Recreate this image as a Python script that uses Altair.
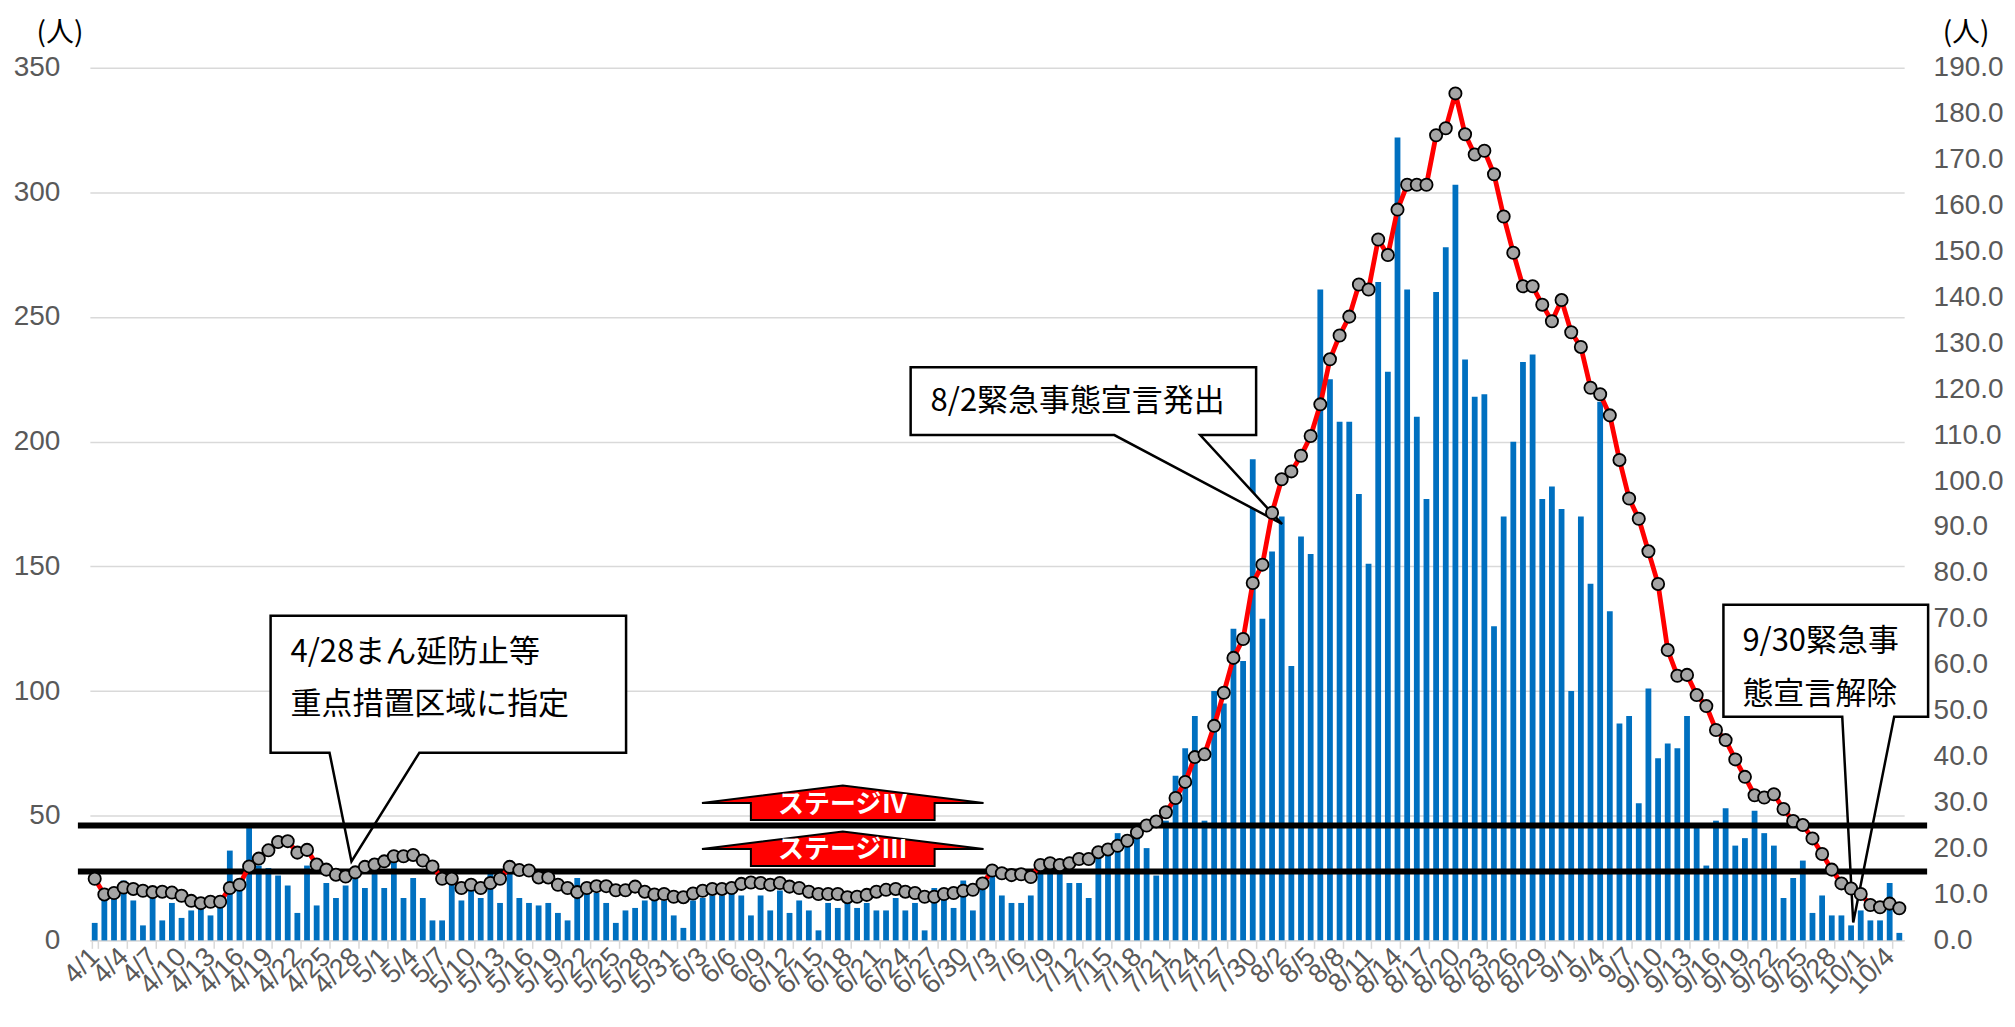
import altair as alt
import pandas as pd

# ---------------- categories ----------------
N_DAYS = 188
day_labels = [f"{d.month}/{d.day}" for d in pd.date_range("2021-04-01", periods=N_DAYS, freq="D")]
tick_labels = day_labels[::3]

# ---------------- daily new cases (left axis, 人) ----------------
cases_apr = [7, 18, 17, 24, 16, 6, 17, 8, 15, 9, 12, 13, 10, 13, 36, 21, 47, 30, 29, 26,
             22, 11, 30, 14, 23, 17, 22, 28, 21, 33]
cases_may = [21, 32, 17, 25, 17, 8, 8, 23, 16, 20, 17, 27, 15, 32, 17, 15, 14, 15, 11, 8,
             25, 20, 19, 15, 7, 12, 13, 16, 16, 16, 10]
cases_jun = [5, 16, 17, 18, 18, 19, 18, 10, 18, 12, 20, 11, 16, 12, 4, 15, 13, 15, 13, 15,
             12, 12, 17, 12, 15, 4, 21, 17, 13, 24]
cases_jul = [12, 24, 28, 18, 15, 15, 18, 32, 33, 30, 23, 23, 17, 33, 35, 43, 39, 44, 37, 26,
             48, 66, 77, 90, 48, 100, 95, 125, 112, 193, 129]
cases_aug = [156, 170, 110, 162, 155, 261, 225, 208, 208, 179, 151, 264, 228, 322, 261, 210,
             177, 260, 278, 303, 233, 218, 219, 126, 170, 200, 232, 235, 177, 182, 173]
cases_sep = [100, 170, 143, 216, 132, 87, 90, 55, 101, 73, 79, 77, 90, 47, 30, 48, 53, 38,
             41, 52, 43, 38, 17, 25, 32, 11, 18, 10, 10, 6]
cases_oct = [12, 8, 8, 23, 3]

# ---------------- weekly cases per 100k (right axis, 人) ----------------
weekly_apr = [13.4, 10.0, 10.3, 11.5, 11.2, 10.8, 10.5, 10.6, 10.4, 9.7, 8.6, 8.1, 8.4, 8.4,
              11.4, 12.1, 16.1, 17.8, 19.6, 21.4, 21.6, 19.1, 19.7, 16.5, 15.4, 14.3, 13.9,
              14.8, 16.0, 16.5]
weekly_may = [17.2, 18.3, 18.3, 18.6, 17.4, 16.1, 13.4, 13.4, 11.4, 12.1, 11.4, 12.5, 13.4,
              16.0, 15.3, 15.2, 13.7, 13.7, 12.1, 11.4, 10.5, 11.4, 11.8, 11.8, 10.9, 10.9,
              11.7, 10.6, 10.0, 10.1, 9.5]
weekly_jun = [9.4, 10.2, 10.8, 11.2, 11.2, 11.4, 12.3, 12.6, 12.5, 12.1, 12.5, 11.7, 11.4,
              10.6, 10.1, 10.1, 10.1, 9.4, 9.5, 9.9, 10.6, 11.0, 11.2, 10.6, 10.3, 9.5, 9.5,
              10.1, 10.3, 10.8]
weekly_jul = [11.0, 12.4, 15.2, 14.6, 14.2, 14.4, 13.8, 16.4, 16.8, 16.4, 16.8, 17.7, 17.7,
              19.2, 19.8, 20.6, 21.7, 23.5, 25.0, 25.9, 27.9, 31.0, 34.5, 39.9, 40.5, 46.7,
              53.9, 61.5, 65.6, 77.8, 81.8]
weekly_aug = [93.1, 100.4, 102.1, 105.5, 109.8, 116.7, 126.5, 131.7, 135.8, 142.8, 141.7,
              152.6, 149.2, 159.1, 164.5, 164.5, 164.5, 175.3, 176.8, 184.4, 175.5, 171.1,
              171.9, 166.8, 157.6, 149.7, 142.4, 142.4, 138.4, 134.8, 139.4]
weekly_sep = [132.4, 129.2, 120.3, 118.9, 114.3, 104.6, 96.2, 91.8, 84.7, 77.6, 63.2, 57.6,
              57.8, 53.4, 51.0, 45.8, 43.6, 39.4, 35.6, 31.6, 31.1, 31.8, 28.6, 26.0, 25.1,
              22.2, 18.8, 15.4, 12.4, 11.3]
weekly_oct = [10.1, 7.7, 7.2, 8.0, 7.0]

left_ticks = list(range(0, 351, 50))
right_ticks = list(range(0, 191, 10))

stage_levels = [15, 25]
stage_names = ["ステージⅢ", "ステージⅣ"]

callout_0428 = ["4/28まん延防止等", "重点措置区域に指定"]
callout_0802 = ["8/2緊急事態宣言発出"]
callout_0930 = ["9/30緊急事", "態宣言解除"]
unit_label = "(人)"

daily_cases = cases_apr + cases_may + cases_jun + cases_jul + cases_aug + cases_sep + cases_oct
weekly_per_100k = weekly_apr + weekly_may + weekly_jun + weekly_jul + weekly_aug + weekly_sep + weekly_oct

df = pd.DataFrame({"day": day_labels, "cases": daily_cases, "weekly": weekly_per_100k})
stage_df = pd.DataFrame({"level": stage_levels, "name": stage_names})

# ---------------- styles ----------------
W, H = 1817, 874
GREY = "#595959"
GRID = "#D9D9D9"
NUM_FONT = "Liberation Sans"
JP_FONT = "Noto Sans CJK JP"

x_enc = alt.X(
    "day:N", sort=day_labels, title=None,
    scale=alt.Scale(paddingInner=0.4, paddingOuter=0.2),
    axis=alt.Axis(values=tick_labels, labelAngle=-45, labelAlign="right",
                  labelBaseline="middle", labelFont=NUM_FONT, labelFontSize=27,
                  labelColor=GREY, labelPadding=4, labelOverlap=False,
                  tickBand="extent", tickColor=GRID, tickWidth=1.5, tickSize=8,
                  domainColor=GRID, domainWidth=1.5, grid=False),
)

left_y = alt.Y(
    "cases:Q", title=None,
    scale=alt.Scale(domain=[0, 350], nice=False),
    axis=alt.Axis(orient="left", values=left_ticks, grid=True, gridColor=GRID,
                  gridWidth=1.5, domain=False, ticks=False, labelFont=NUM_FONT,
                  labelFontSize=28, labelColor=GREY, labelPadding=30),
)

right_scale = alt.Scale(domain=[0, 190], nice=False)
right_axis = alt.Axis(orient="right", values=right_ticks, format=".1f", grid=False,
                      domain=False, ticks=False, labelFont=NUM_FONT, labelFontSize=28,
                      labelColor=GREY, labelPadding=29)


def ry(field):
    return alt.Y(field, title=None, scale=right_scale, axis=right_axis)


bars = alt.Chart(df).mark_bar(color="#0070C0").encode(x=x_enc, y=left_y)

line = alt.Chart(df).mark_line(color="#FF0000", strokeWidth=4.8).encode(x=x_enc, y=ry("weekly:Q"))
points = alt.Chart(df).mark_circle(size=150, color="#A5A5A5", stroke="black",
                                   strokeWidth=1.8, opacity=1).encode(x=x_enc, y=ry("weekly:Q"))

stage_rules = alt.Chart(stage_df).mark_rule(color="black", strokeWidth=6).encode(
    y=ry("level:Q"), x=alt.value(-12), x2=alt.value(W + 23))

ARROW = "M0,-40 L141,-22.5 L92,-22.5 L92,-5.5 L-92,-5.5 L-92,-22.5 L-141,-22.5 Z"
stage_arrows = alt.Chart(stage_df).mark_point(
    shape=ARROW, size=4, filled=True, fill="#FF0000", stroke="black", strokeWidth=2,
    opacity=1).encode(x=alt.value(754), y=ry("level:Q"))
stage_text = alt.Chart(stage_df).mark_text(
    font=JP_FONT, fontSize=26, fontWeight="bold", color="white", dy=-21,
    align="center", baseline="middle").encode(x=alt.value(754), y=ry("level:Q"), text="name:N")

right_layer = alt.layer(stage_rules, line, points, stage_arrows, stage_text)

one = pd.DataFrame({"k": [0]})


def callout(path, ax, ay):
    return alt.Chart(one).mark_point(
        shape=path, size=4, filled=True, fill="white", stroke="black",
        strokeWidth=2.5, opacity=1).encode(x=alt.value(ax), y=alt.value(ay))


def label(txt, ax, ay, size=31, align="left"):
    return alt.Chart(pd.DataFrame({"t": [txt]})).mark_text(
        font=JP_FONT, fontSize=size, color="black", align=align,
        baseline="middle").encode(x=alt.value(ax), y=alt.value(ay), text="t:N")


c1 = callout("M0,0 L356,0 L356,137 L149,137 L81,246 L59,137 L0,137 Z", 181, 549)
c2 = callout("M0,0 L346,0 L346,68 L290,68 L372,157 L204,68 L0,68 Z", 822, 300)
c3 = callout("M0,0 L205,0 L205,112 L171,112 L130,318 L119,112 L0,112 Z", 1636, 538)

texts = [
    label(callout_0428[0], 201, 586),
    label(callout_0428[1], 201, 638),
    label(callout_0802[0], 842, 335),
    label(callout_0930[0], 1655, 575),
    label(callout_0930[1], 1655, 628),
    label(unit_label, -30, -34, size=28, align="center"),
    label(unit_label, W + 62, -34, size=28, align="center"),
]

chart = alt.layer(bars, c1, c2, c3, right_layer, *texts).resolve_scale(
    y="independent"
).properties(
    width=W, height=H,
    padding={"left": 82, "top": 59, "right": 103, "bottom": 78},
    autosize=alt.AutoSizeParams(type="none"),
    background="white",
).configure_view(stroke=None)

chart.save("out.html", embed_options={"renderer": "svg", "actions": False})
